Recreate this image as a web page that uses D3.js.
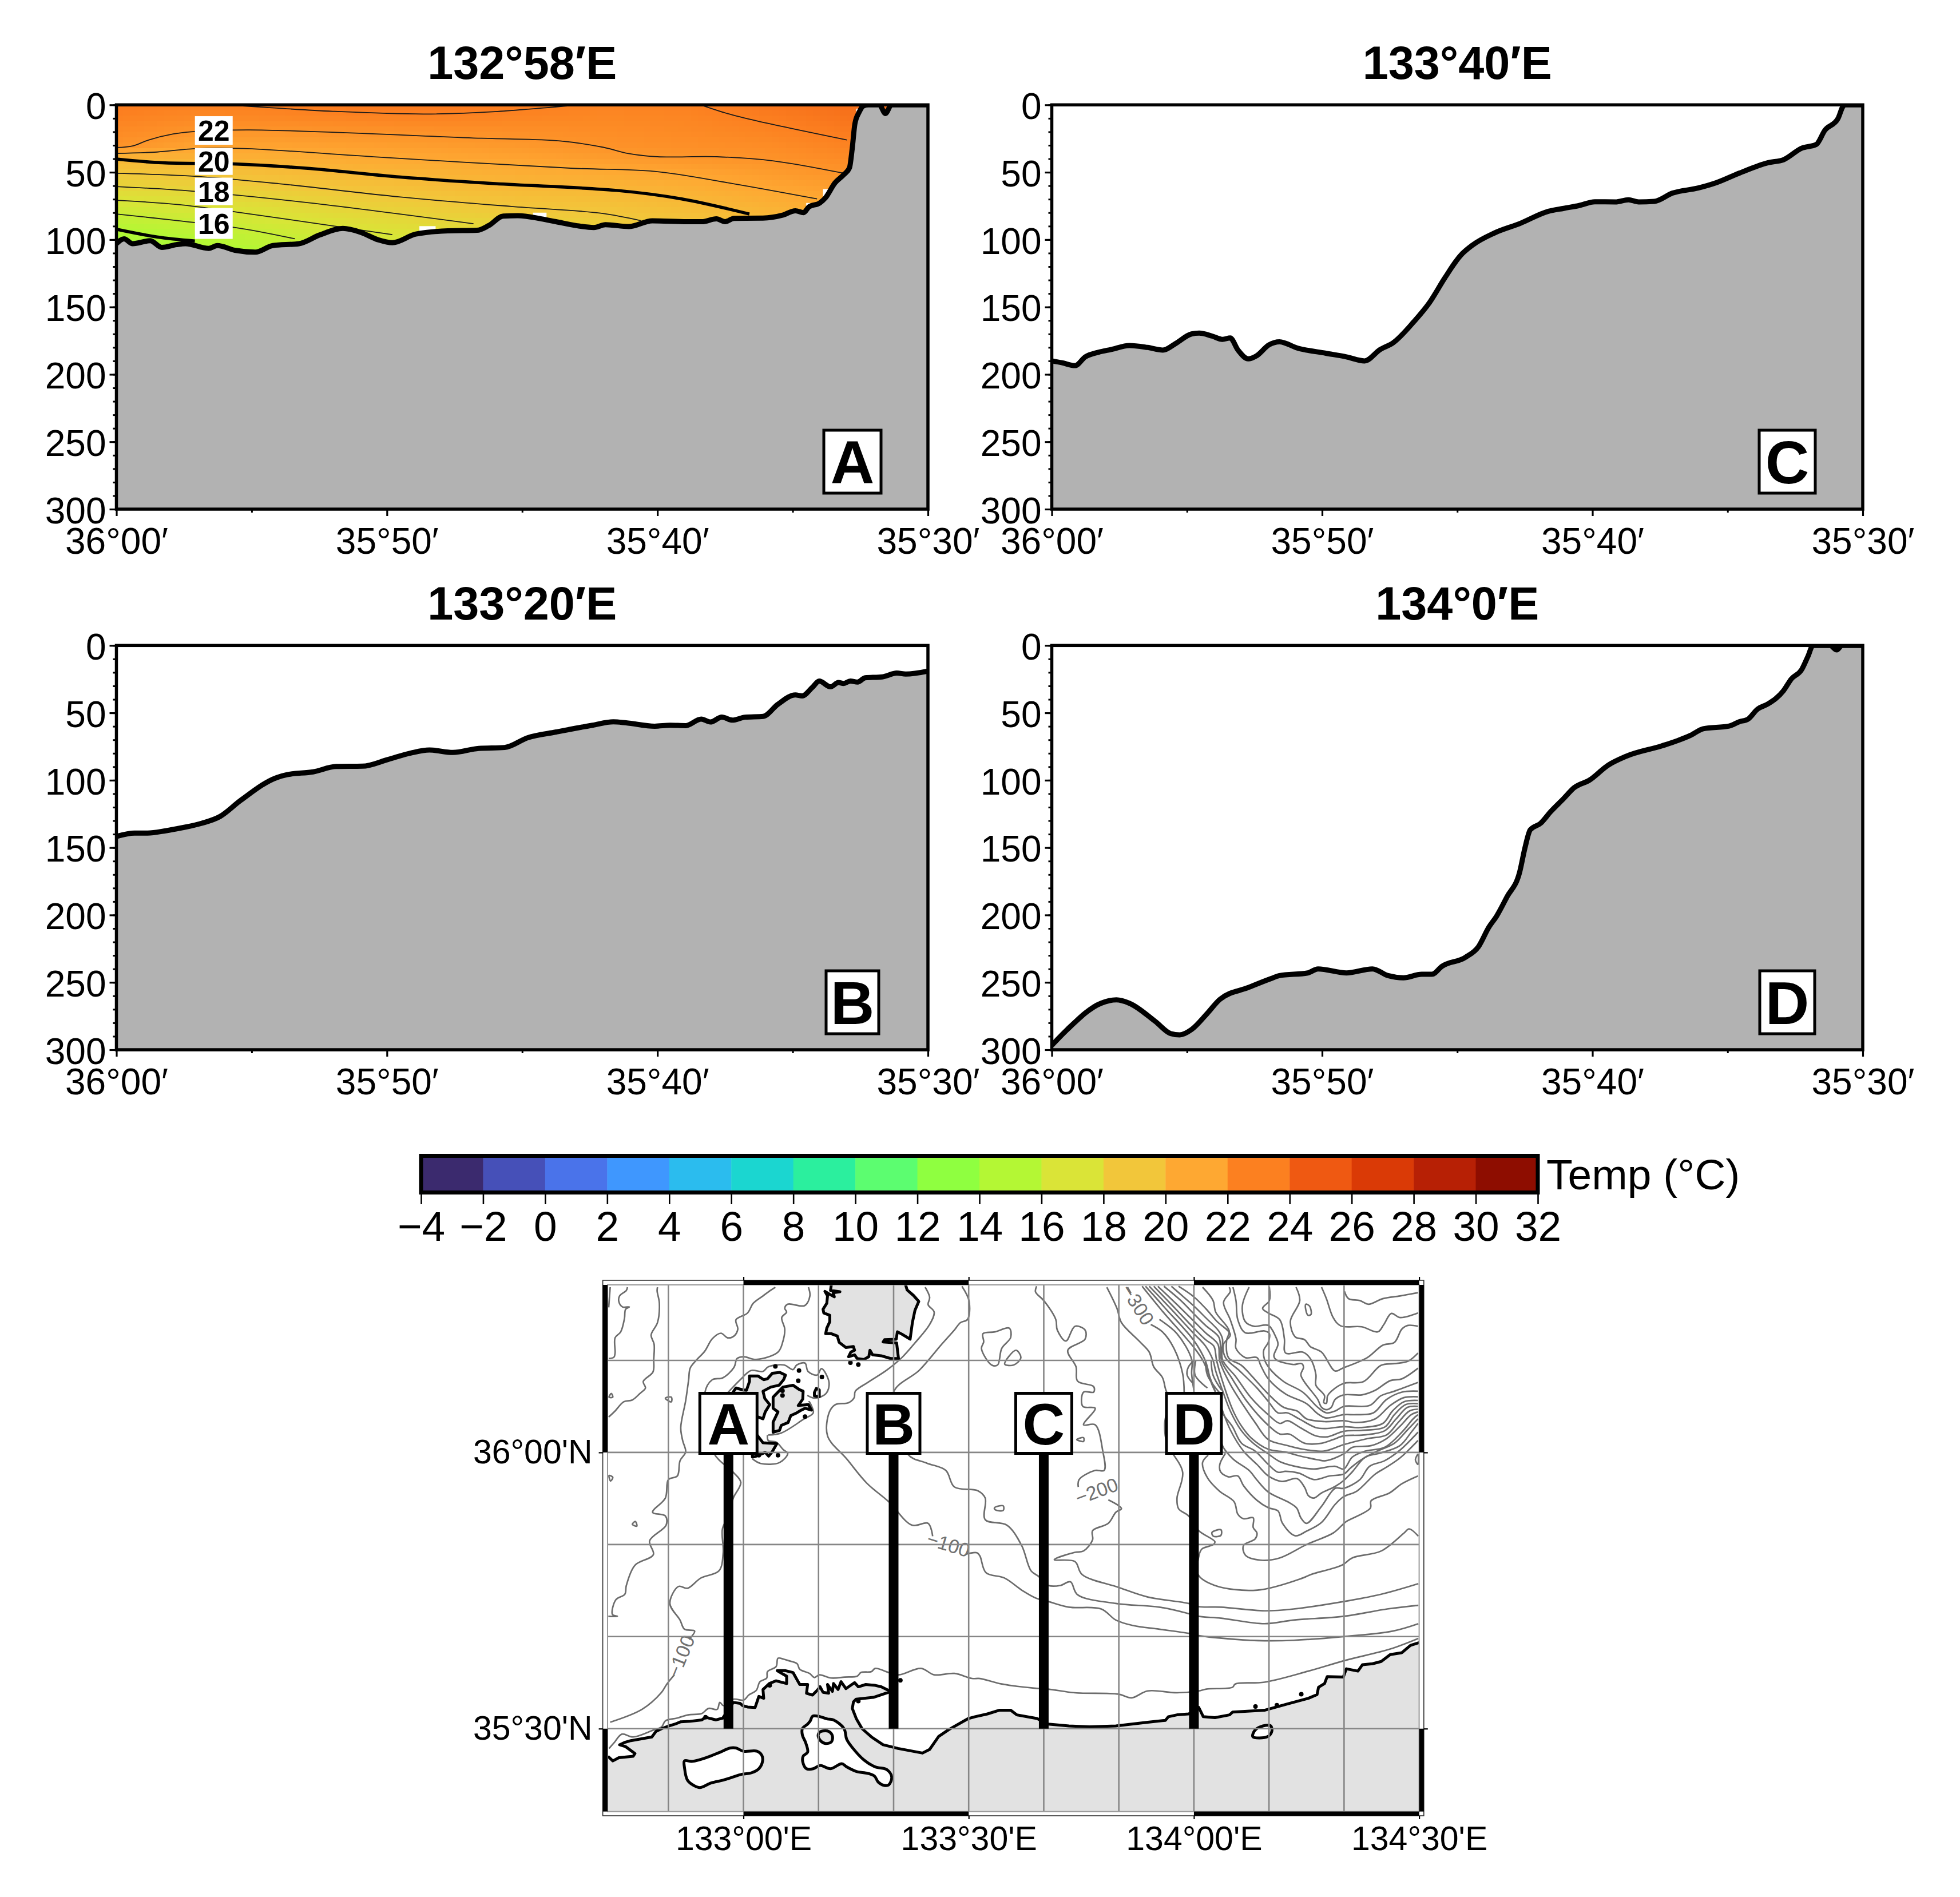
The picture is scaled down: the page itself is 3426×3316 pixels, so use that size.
<!DOCTYPE html>
<html><head><meta charset="utf-8">
<script src="https://cdn.jsdelivr.net/npm/d3@7"></script>
<style>html,body{margin:0;background:#fff}svg{display:block}text{font-family:"Liberation Sans",Arial,sans-serif}</style>
</head><body><svg id="c" width="3426" height="3316"></svg>
<script>
// ---------- bathymetry sections: minutes of latitude south of 36 00N, depth in metres
const latA=[0,.28,.6,1.25,1.68,2.22,2.55,3.41,3.73,4.38,5.13,5.78,6.75,7.51,8.37,9.02,9.67,10.2,11.07,12.25,13.33,13.76,14.3,14.84,15.71,16.25,17,17.65,18.08,18.94,19.81,21.1,21.64,22.18,22.5,22.83,23.9,24.6,25.1,25.4,25.6,26,26.21,26.56,26.9,27.1,27.2,27.3,27.45,27.62,27.8,28.2,28.43,28.65,30];
const depthA=[103,99.4,103,100.8,105.8,103.7,103,106.5,104.4,107.9,109.3,104.4,103,96.6,91.7,94.5,100.1,102.3,95.9,93.5,93.1,89.6,82.5,82.2,84.6,86.7,89.6,91,88.9,90.3,86,86.7,86.7,84.6,86.7,84.2,84,82,78.6,80,75.7,72.8,69,58,51.6,46.7,32.5,14,5.7,.7,0,0,6.4,0,0];
const latB=[0,.67,1.15,1.82,2.39,3.16,3.83,4.59,5.93,6.31,7.27,8.13,9.09,10.04,10.9,11.57,12.44,13.39,14.35,15.21,16.26,17.6,18.37,18.84,19.9,20.47,21.04,21.62,21.96,22.38,22.77,23.24,23.91,24.45,25.1,25.35,25.73,25.98,26.4,26.69,26.88,27.13,27.4,27.68,28.31,28.85,29.18,30];
const depthB=[141.7,139.2,139.2,137.5,135.4,131.9,126.9,115,98,95.9,93.8,89.8,89.6,84.6,79.7,77.6,79.4,76.4,75.7,68.4,64.2,59.2,56.7,57.4,59.9,59.2,59.5,54.6,56.8,53.2,55.4,53.2,52.6,43.7,36.7,37.4,31,26.4,30.7,27.5,28.2,26.4,27.2,24,23.3,20.5,21.2,19];
const latC=[0,.38,.86,1.24,1.72,2.2,2.87,3.54,4.11,4.59,5.17,5.45,5.93,6.31,6.6,6.89,7.27,7.56,8.04,8.42,9.09,10.14,10.9,11.57,12.15,12.63,13.39,13.97,14.54,15.11,15.59,16.36,17.31,18.37,18.94,19.51,20.09,20.85,21.33,21.71,22.29,22.96,23.91,24.59,25.44,26.5,27.07,27.74,28.28,28.6,29.08,29.27,29.33,30];
const depthC=[190,191.4,193.5,187,183.6,181.5,178.6,180,182,177,170,169.4,171.6,174,173,182,188.5,186.4,178,175.8,180.5,184.3,187,190,181.5,176.5,161,146.8,128.4,112,103.7,95.2,88.1,79,76.8,74.7,71.9,72,70.4,72,71.6,65.5,61.7,57.7,50.6,42.9,40.7,32.2,29.4,18.8,10.3,1.1,0,0];
const latD=[0,.57,1.82,2.39,2.87,3.83,4.4,4.73,5.17,5.74,6.22,7.27,8.13,8.42,9.47,9.85,10.9,11.86,12.44,13.01,13.68,14.06,14.44,15.3,15.78,16.17,16.45,16.84,17.31,17.5,17.7,18.08,18.46,18.94,19.32,19.9,20.57,21.24,22.57,23.15,23.63,24.1,25.06,25.44,25.73,26.11,26.5,27.07,27.36,27.74,27.97,28.16,28.79,29.04,29.23,30];
const depthD=[296.7,285,265.5,263,265.5,279,288,289,285,273.3,262.6,253.8,247,245,243,240,243,240,245,246.6,244,244,238,231.4,223.6,209,201,186.5,168,150.5,136.8,132,123.2,113.5,105.6,99.8,89,82.3,74.5,70.6,66.7,61.8,59.8,56.5,55,47.2,43.3,33.5,24.8,17.9,8.2,0,0,3.3,0,0];
const sectionLetters=["A","C","B","D"];
const sectionTitles=["132°58′E","133°40′E","133°20′E","134°0′E"];
const sectionLats=[latA,latC,latB,latD];
const sectionDepths=[depthA,depthC,depthB,depthD];
const sectionTickLabels=["36°00′","35°50′","35°40′","35°30′"];
const sectionTickLats=[0,10,20,30];
const depthTicks=[0,50,100,150,200,250,300];

// ---------- temperature along section A (columns by latitude, rows by depth)
const tempLat=[0,3,6,9,12,15,18,21,24,27];
const tempDepth=[0,10,20,30,40,50,60,70,80,90,100,110];
const tempGrid=[
[23.3,22.9,22.5,22.1,20.05,19.1,18.05,17.1,16.1,15.2,14.4,13.6],
[22.95,22.5,21.95,21.25,20.35,19.3,18.4,17.5,16.65,15.8,15.05,14.4],
[23.1,22.6,21.95,21.3,20.5,19.7,18.9,18.05,17.25,16.5,15.8,15],
[23.4,22.75,22.05,21.45,20.85,20.1,19.35,18.6,17.9,17.2,16.5,15.8],
[23.4,22.8,22.15,21.6,21.05,20.35,19.7,19.05,18.4,17.7,17,16.3],
[23.15,22.7,22.25,21.8,21.25,20.65,20,19.4,18.8,18.1,17.5,16.8],
[22.85,22.6,22.35,22.1,21.55,20.9,20.2,19.55,19,18.4,17.8,17.2],
[22.95,22.7,22.5,22.25,21.9,21.2,20.6,20,19.45,18.9,18.4,17.9],
[23.5,23.1,22.75,22.4,22.05,21.6,21.15,20.65,20.1,19.6,19,18.5],
[23.9,23.6,23.25,22.85,22.45,22.05,21.6,21.15,20.7,20.2,19.8,19.4]];
const tempGapLat=[[27.35,27.43],[26.12,26.32],[25.5,25.65],[15.4,15.9],[11.2,11.8]];
const tempGapDepth=[[2.8,7],[62.5,68],[72.8,75],[80,84.6],[90,94.5]];
const iso23a=[[4.1,0],[6,2.5],[8,4.8],[11.4,6.8],[14,5],[17.1,0]];
const iso23b=[[21.6,0],[22.6,6.5],[23.7,12],[27,26]];
const iso22=[[0,31.7],[.6,30.5],[1.2,26],[2.1,21.6],[2.76,20],[4.9,18.6],[13.5,24.8],[16.4,26.8],[18,31.5],[18.9,36],[20,38.5],[22.2,38.5],[24.3,41.6],[26.9,50.8]];
const iso21=[[0,36],[1.5,35],[2.9,32.5],[4.7,32.4],[9.7,38.8],[16.8,47],[19.9,49.4],[22.8,58.5],[25.9,69.8]];
const iso20=[[0,40.2],[1.7,43],[4.3,43.8],[7,47],[10.5,53.6],[14,58.5],[18.5,63.5],[20.9,69.8],[23.4,81]];
const iso19=[[0,50.8],[2.8,52.9],[6,58.5],[10.5,68.4],[14.6,75.4],[17.9,80.4],[19.4,86]];
const iso18=[[0,60.6],[2.8,64],[7.1,72.6],[13.2,88.2]];
const iso17=[[0,70.8],[2.3,74],[4.5,79.7],[8.4,91],[10.2,96.3]];
const iso16=[[0,81],[2.3,86],[4.7,92],[6.6,99.4]];
const iso15=[[0,92.3],[1.5,98],[2.9,101]];
const isoThin=[iso23a,iso23b,iso22,iso21,iso19,iso18,iso17,iso16];
const isoBold=[iso20,iso15];
const isoLabels=["22","20","18","16"];
const isoLabelDepth=[19,42,64.2,88];
const isoLabelLat=3.6;

// ---------- colour bar
const barBreaks=[-4,-2,0,2,4,6,8,10,12,14,16,18,20,22,24,26,28,30,32];
const barColors=["#3b2a6e","#4650b8","#4a73ea","#3f97fe","#2bbcee","#1bd6d0","#2bef9e","#5cfd70","#8fff40","#b4f734","#dae437","#f2c63a","#fea832","#fc8020","#ef5912","#da3a06","#b72005","#8e0d00"];

// ---------- map: arcminutes east of 133 00E, arcminutes north of 35 30N
const coastSouth=[[-18.05,-3],[-17.4,-3.5],[-16.6,-3.15],[-14.7,-3],[-14.45,-2.7],[-15.7,-1.95],[-16.5,-1.75],[-15.85,-1.5],[-15,-1.3],[-12.2,-.9],[-11.65,-.3],[-10.9,0],[-9.9,.3],[-9.1,.5],[-8.35,.75],[-7.1,.8],[-5.55,.95],[-5.05,1.25],[-4.4,1.1],[-3.65,.95],[-2.75,1.15],[-1.35,2.85],[-.45,2.75],[-.1,2.5],[.55,2.35],[1.55,2.3],[1.8,2.9],[2.05,3.5],[2.7,3.3],[2.6,4.25],[3.45,4.9],[4.35,5.2],[5.75,4.9],[5.75,5.7],[5.1,6],[4.5,6.3],[5.6,6.3],[6.6,6.1],[7.15,5.3],[7.5,4.8],[8.55,4.8],[8.4,3.85],[9.2,3.65],[9.8,4.15],[10.2,4.55],[10.6,3.95],[11.35,3.85],[11.2,4.8],[11.85,4.05],[12,4.9],[12.6,4.25],[13,5.1],[13.65,4.35],[14.8,5],[15.3,4.55],[16.3,4.8],[17.55,4.7],[18.35,4.55],[19.35,4.15],[19.35,3.95],[17.3,3.4],[15,3.2],[14.65,2.9],[14.5,2.2],[15.05,1.05],[15.8,0],[17.05,-.9],[18.6,-1.75],[20.6,-2.15],[23.85,-2.65],[24.8,-2.25],[26,-.85],[27.35,-.1],[29.95,1.1],[30.85,1.3],[32.5,1.6],[34.05,2],[35.6,2],[36.4,1.5],[39.1,1.1],[40.6,.5],[43.35,.3],[46.1,.2],[49.6,.3],[53.85,.7],[56.2,.9],[56.6,1.3],[57.75,1.5],[59.3,1.6],[60.65,2.3],[61.25,1.3],[62.8,1.2],[64.75,1.5],[65.15,1.8],[69.4,2],[72.5,2.7],[75.25,3.3],[76.4,3.7],[76.6,4.5],[77.4,4.9],[77.75,5.65],[79.9,5.6],[80.3,6.5],[81.85,6.25],[82.45,6.95],[83.8,7.05],[84.95,7.3],[86.15,8.05],[87.7,8.25],[88.85,9.05],[90,9.35]];
const coastDogo=[[11.7,48.2],[11.6,47.6],[12.85,47.45],[11.95,47.35],[12.1,46.9],[11.45,47.2],[10.85,47.5],[11.2,47],[11.1,46.2],[10.6,45.55],[10.7,45.15],[11.5,44.9],[11.5,44.2],[11.1,43.5],[10.95,42.9],[11.7,42.9],[12.5,42.65],[12.75,41.95],[13.65,41.4],[14.65,41.5],[14.8,41.1],[14.3,40.9],[14,40.4],[14.8,40.6],[15.15,40.2],[16.05,40.1],[16.7,40.4],[16.85,41.1],[17.2,40.6],[18.35,40.5],[19.6,40.2],[20.65,40.2],[20.4,41.9],[18.6,42],[18.8,42.25],[20.35,42.3],[20.5,43.1],[21.1,42.85],[22.2,42.3],[22.5,44.1],[22.85,45.45],[23.35,46.4],[22.65,47.05],[21.8,47.65],[21.6,48.2]];
const coastNishi=[[.8,38.3],[1.95,38.3],[2.7,37.9],[3.2,38],[3.85,38.6],[4.85,38.7],[5.6,38.4],[5.35,37.9],[4.75,37.3],[3.65,37.1],[2.6,36.65],[2.85,35.85],[3.5,35.2],[2.9,34.4],[2.6,33.65],[1.95,33.85],[-1.2,33.85],[-1.5,36.4],[-1,37],[-.1,36.8],[.4,36.75],[.8,37.7]];
const coastNaka=[[3.95,36],[5.25,37.1],[6.6,37.3],[7.4,36.85],[7.95,36.65],[7.9,35.8],[7.3,35.1],[8.65,35.2],[9.05,34.6],[8.2,34.8],[7.7,34.6],[7.1,34.3],[6.3,34],[5.95,33.25],[5.05,32.95],[4.8,32.4],[3.95,32.2],[3.95,33.3],[4.6,34.4],[3.95,34.8],[3.95,35.6]];
const coastChiburi=[[1,32.5],[1.8,31.9],[2.6,31.05],[4.45,30.95],[3.85,30.1],[3.35,29.6],[2.9,30],[1.55,29.55],[1.2,29.5]];
const coastRingA=[[9.45,36.5],[9.7,36.95],[10.1,36.8],[10.1,36.05],[9.45,36.15]];
const lakeShinji=[[-7.85,-3.5],[-6.8,-3.55],[-4.8,-3.1],[-3.25,-2.6],[-1.75,-2.1],[-1,-2.1],[0,-2.45],[1.8,-2.45],[2.45,-2.9],[2.55,-3.5],[2.05,-4.35],[1.05,-4.8],[-.2,-4.95],[-1.75,-5.35],[-2.75,-5.6],[-4.3,-5.9],[-5.8,-6.4],[-6.55,-6.2],[-7.45,-5.6],[-7.85,-4.25]];
const lakeNaka=[[9.2,1.35],[9.95,1.35],[11.2,1.05],[12,.95],[13.4,0],[13.75,-1.15],[14.5,-2.05],[16.05,-3.4],[17.55,-4.15],[19.1,-4.45],[19.75,-5.25],[19.35,-6.1],[18.7,-6.15],[17.95,-5.8],[17.45,-5.15],[16.55,-4.85],[15.05,-4.65],[13.75,-4.15],[13.1,-3.8],[11.6,-4.35],[10.2,-4],[9.3,-4.35],[8.4,-4.35],[7.9,-3.6],[7.95,-3],[8.55,-2.55],[8.3,-1.55],[7.85,-.7],[7.85,0],[8.55,.5],[8.9,.85]];
const lakeIsle=[[10.6,-.25],[11.35,-.3],[11.85,-.8],[11.7,-1.45],[10.85,-1.6],[10.2,-1.25],[9.95,-.7],[10.2,-.35]];
const lakeEast=[[67.85,-.87],[68.1,-.2],[68.83,.2],[70.2,.32],[70.38,-.28],[69.8,-.87]];
const isletDots=[[68.2,2.4],[71.05,2.55],[74.3,3.75],[20.9,5.25],[15.3,3],[7.3,37.8],[4.25,39.35],[7.4,38.9],[10.45,38.2],[14.25,39.75],[15.3,39.55],[2.05,29.7],[4.6,29.7],[5.2,36.7],[5.2,36.2],[8.2,33.9],[-5.05,1.25],[3.5,4.7]];

const cW1=[[-17.75,47.95],[-17.95,45.75]];
const cW2=[[-15.45,47.95],[-15.6,47.6],[-16.5,47],[-16.6,46.4],[-16.1,45.8],[-15.2,45.8],[-15.7,45.55],[-15.85,44.55],[-16.35,43.1],[-17.1,42.45],[-17.1,40.8],[-17.25,40.35],[-17.95,40.2]];
const cW3=[[-11.45,47.95],[-11.5,47.55],[-11.2,46.2],[-11.45,44.1],[-12.3,42.75],[-11.9,41.75],[-11.95,40.1],[-12.05,38.75],[-13.35,37.7],[-13.05,37],[-13.8,36.4],[-14.8,35.7],[-15.95,35.5],[-17.1,34.5],[-17.95,33.85]];
const cW4=[[4.25,47.95],[3.6,47.6],[2.6,47],[1.3,46.2],[.55,45.15],[-1,44.4],[-.75,43.4],[-1.25,42.65],[-2.1,42.45],[-3,42.95],[-4.15,42.35],[-5.15,41],[-6.3,40],[-7.1,39.15],[-7.3,37.9],[-7.7,35.6],[-8.35,32.7],[-8.1,31.3],[-7.7,30.05],[-8.45,29.1],[-8.8,27.45],[-10,27.05],[-10.4,25.05],[-12.1,23.5],[-10.4,23.1],[-10.3,22.1],[-12.5,20.4],[-12,18.9],[-14.45,17.75],[-15.6,15.55],[-15.8,14.6],[-17,14],[-17.45,12.4],[-16.8,12.2],[-18,12.2]];
const cW5a=[[8.65,47.95],[8.85,47],[8.15,45.95],[5.9,46.1],[5.5,45.65],[5.75,45.25],[5.1,44.65],[5.5,43.4],[5.25,42.05],[4.6,40.9],[1.7,40.1],[.05,40.4],[-.85,40.2],[-1.25,39.25],[-2.75,38.1],[-4.15,37.9],[-5.15,36.45],[-4,30],[-1.35,27.85],[-.35,26.75],[-1.35,25.05],[-2,23.1],[-2.8,21.7],[-2.7,19.1],[-3.25,17.15],[-5.7,16.35],[-7.45,15.25],[-8.65,15.45],[-9.8,13.6],[-8.45,11.8],[-7.85,10.8],[-6.5,10.6],[-7.25,9.7]];
const cW5b=[[-9.2,5.85],[-10.2,4.85],[-10.95,3.9],[-13.5,2.1],[-17.75,.7]];
const cCoastal=[[-17.9,-2.15],[-17.25,-1.55],[-16.2,-.6],[-14.7,-.9],[-12.15,-.2],[-10.9,.2],[-10.4,.85],[-8.85,1.15],[-7.35,1.5],[-5.55,1.65],[-4.65,2.2],[-3.5,2.1],[-3.15,2.85],[-2.65,2.5],[-1.35,3.2],[.05,3.1],[.7,3.65],[1.7,4.15],[2.2,5.1],[3.1,5.5],[3.2,6.2],[4.35,6.75],[4.6,7.65],[5.35,7.55],[5.95,7.4],[7.15,7.05],[7.5,6.45],[8.8,6],[9.45,5.55],[10.1,5.85],[11.7,5.5],[13.5,5.6],[15.15,5.7],[15.65,6.1],[17.05,6.2],[17.55,6.55],[19.35,6.1],[20.7,5.85],[23.65,6.55],[25.4,5.85],[28.1,6],[30.45,5.45],[31.5,5.45],[34.4,4.85],[38.7,4.4],[40.6,4.3],[44.15,3.9],[49.95,3.75],[51.7,3.35],[53.85,4.1],[57.75,3.9],[60.65,4.1],[61.65,4.3],[65.15,4.5],[65.5,4.85],[69.4,5.05],[75.25,6.25],[80.3,7.45],[86.15,8.65],[89.9,9.8]];
const cIslesA=[[24.2,47.95],[24.8,46.85],[24.6,46.05],[25.4,45.25],[24.8,43.9],[22.85,41.9],[21.1,40.3],[19.1,38.95],[16.55,37.6],[14.9,36.65],[14.75,35.95],[14,35.4],[12.25,35.2],[11.45,34.4],[11.2,31.8],[13.75,29.3],[16.45,26.65],[19.35,24.65],[22.45,22.1],[24.6,22.3],[25.2,20.9]];
const cIslesB=[[29.65,18.95],[31.1,19.1],[31.5,18.75],[32.3,16.95],[34.8,16.35],[37.15,15],[38.9,14.2],[40.65,13.8],[43.35,13.2],[47.65,13],[49.6,11.8],[51.9,11.2],[55.4,10.8],[59.3,10.35],[60.65,10.1],[65.5,9.7],[69.4,9.55],[73.3,9.6],[79.9,10],[86.5,10.6],[89.9,11.4]];
const cDozenS=[[3.3,31.9],[5,32.1],[8,33.6],[9.3,34.3],[9.1,35],[8.7,35.6]];
const cDozenN=[[-2.2,36.4],[-.3,38],[1,38.9],[2.6,38.8],[3.3,39.3],[5.4,39.5],[6.6,39],[7.1,39.5],[8.2,39.7],[8.6,38.8],[9.8,38.4],[10.4,39.1],[11.4,37.6],[11,36.4],[9.5,35.9],[8.5,36.2]];
const cSouthIsle=[[1.2,29.3],[2.3,28.8],[4.8,28.9],[5.9,29.9],[5.3,30.3],[4.4,31.1],[3.3,31.3],[3.2,31.9]];
const cMid2=[[29.1,48.05],[30.05,46.45],[29.85,44.45],[28.9,44.1],[28.1,43.3],[26.35,41.7],[23.45,38.95],[19.95,36.45],[21.9,29.8],[24.4,28.85],[26.95,28.05],[28.1,26.25],[31.2,25.85],[32.2,25.05],[32.2,22.7],[35.1,22.1],[37.05,19.9],[38.3,17.15],[39.3,16.55],[40.65,15.55],[42.2,15.55],[43.55,15.95],[44.5,14.55],[49.6,13.6],[55.4,13.2],[59.3,12.5],[60.65,12.2],[63.6,12],[69.4,11.4],[73.3,11.8],[79.9,12.2],[85.75,13],[89.9,13.4]];
const c200a=[[39.05,48.05],[38.9,47.45],[40.05,46.45],[41.6,44.45],[41.8,43.3],[42.95,42.1],[44.15,43.7],[45.5,43.3],[45.5,42.3],[43.2,41.1],[44.3,39.3],[44.5,37.75],[46.65,37.15],[46.65,36.55],[45.3,36.55],[45.2,35],[46.85,34.8],[45.3,33],[46.85,33],[47.85,30.2],[48.05,28.05],[46.85,28.05],[44.7,27.05],[44.6,26.25]];
const c200b=[[48.6,24.85],[50.35,23.9],[49.6,23.5],[48.6,22.3],[46.5,21.5],[46.5,20.5],[45.3,19.3],[44.15,19.15],[41.4,18.35],[44.15,18.15],[45.1,16.75],[49.95,15.35],[53.85,14.3],[59.3,13.6],[60.65,13.25],[63.6,13.2],[69.4,12.8],[73.3,13],[79.9,13.8],[84.95,14.6],[89.9,15.75]];
const cN1=[[48.4,47.95],[49.75,45.65],[50.35,44.1],[52.7,42.1],[54.05,40.9],[54.65,39.3],[55.8,38.15],[56.2,36.95],[56.6,35.8],[56.1,33],[56.4,31],[58.5,27.85],[57.75,25.05],[57.95,23.9],[59.3,23.1],[60.65,21.5],[62.8,20.3],[62.6,20],[61.05,19.5],[60.65,18.7],[60.55,16.75],[62.8,15.55],[68.45,15.05],[74.45,16.35],[75.6,16.75],[79.7,17.75],[81.1,18.55],[84.95,19.3],[88.05,21.3],[88.65,21.7],[89.9,20.9]];
const cN2=[[61.9,29.7],[61.15,28.9],[61.8,27.25],[63.4,25.8],[65.35,24.65],[65.85,23.3],[66.6,22.8],[67.9,22.9],[67.9,21.85],[68.4,21.25],[68.15,20.6],[66.6,19.9],[66.85,18.85],[68.9,18.3],[71.45,18.55],[75,20],[78.55,21.25],[79.8,22.15],[80.3,22.5],[83.5,23.95],[83.6,24.75],[86.05,25.6],[87.7,26.6],[89.85,27.45]];
const cR1=[[80.05,47.5],[80.6,46.7],[82.1,46.5],[83.25,46.1],[85.15,46.7],[87.45,47],[89.85,47.35]];
const cR2=[[77,47.95],[77.65,46.7],[78.55,44.65],[79.55,43.75],[82.35,43.65],[84.5,43.1],[85.3,43.9],[86.3,45.1],[87.45,44.65],[89.85,45.15]];
const cR3=[[73.6,47.95],[74.1,46.5],[72.85,44.25],[73.5,42.55],[74.75,42.25],[75.5,41.5],[77,40.9],[78.8,38.85],[79.8,39.15],[83.1,40.3],[85.15,41.65],[86.7,41.95],[87.7,43.4],[88.5,43.8],[89.85,43.7]];
const cR4=[[70.05,47.95],[70.05,46.5],[69.15,45.65],[69.9,45.15],[71.45,44.4],[72.05,42.35],[72.2,40.8],[74.5,40.9],[75.5,40.2],[76.25,38.45],[76.25,37.3],[77.4,36.15],[77.3,35.4],[77.65,35.35],[77.8,36.15],[78.3,36.65],[79.95,37.5],[82.6,37.7],[84.9,39.45],[86.7,39.65],[88.5,39.9],[89.85,40.8]];
const cR5=[[67.35,47.95],[66.45,45.9],[66.85,44.2],[68,43.7],[69.9,43.8],[70.9,42.55],[71.2,41.75],[70.65,40.5],[70.9,40.1],[73.2,39.55],[74.35,39.65],[74.6,39.25],[74.25,38.4],[76.5,35.75],[77,34.9],[77.65,34.65],[78.3,34.9],[78.8,35.75],[79.95,36.25],[82.35,36.25],[84.15,36.75],[86.15,37.8],[87.7,38],[89.85,39.15]];
const cFa=[[65.2,47.95],[65.6,46.5],[65.85,44.4],[66.85,43],[69.4,43.2],[70.05,42.9],[69.9,41.95],[69.3,41.1],[69.4,40.1],[70.05,39.15],[71.95,37.7],[74.5,36.55],[76.5,34.9],[77.65,34.3],[78.8,34.5],[79.95,35],[83.4,35.1],[84.9,36.15],[86.7,36.65],[89.85,37.6]];
const cFb=[[64.7,47.95],[64.85,47.5],[63.95,46.3],[64.85,44.4],[65.6,42.35],[65.6,41.3],[66.85,40.3],[68.4,40.3],[68.9,39.45],[69.9,38],[72.2,36.35],[75,35.3],[76.5,34.2],[77.55,33.75],[79.95,34.1],[81.6,34.1],[83.9,34.3],[85.65,35.75],[87.7,36.55],[89.85,36.65]];
const cFc=[[61.15,47.95],[62.55,46.5],[62.9,45.25],[64.7,43.2],[64.35,42.15],[64.6,40.3],[66.35,39.45],[67.6,38.4],[69.9,36.35],[71.95,34.9],[73.75,34.5],[75,33.65],[77.4,33.35],[79.95,33.45],[81.6,33.25],[84.15,33.65],[86.15,35.1],[87.95,35.95],[89.85,36.05]];
const cFd=[[57.95,48.05],[60,46.9],[61.55,45.65],[63.05,44.25],[64.85,42.8],[63.95,41.75],[64.2,40.3],[66.1,38.85],[68.4,37],[69.9,35.55],[71.2,34.3],[72.45,34.3],[74,33.65],[76.25,32.7],[77.55,32.6],[79.95,32.8],[82.1,32.7],[85.15,33.15],[86.45,34.5],[87.95,35.5],[89.85,35.65]];
const cFe=[[57,48.05],[58.75,46.8],[60,45.9],[61.55,44.65],[63.3,43.2],[63.8,42.35],[63.8,40.1],[65.6,38.2],[67.6,35.95],[69.9,34.1],[71.45,33.15],[72.45,33.45],[74.25,32.65],[76.25,31.8],[77.8,31.7],[79.95,32.3],[82.35,32.4],[85.4,32.75],[86.7,34.1],[88.2,35.2],[89.85,35.3]];
const cFf=[[56,48.05],[58.25,46.5],[60,45.05],[61.55,43.8],[63.3,42.55],[63.55,41.55],[63.7,39.9],[65.1,38],[67.1,35.5],[69.9,32.95],[71.45,32],[72.7,32],[74.75,31],[77,31],[78.55,31.4],[79.95,31.8],[82.6,31.9],[85.4,32.35],[86.95,33.65],[88.45,34.9],[89.85,35]];
const cFf2=[[55.2,48.05],[57.7,46.1],[60,44.25],[61.55,43],[63.2,41.75],[63.45,39.9],[64.85,37.4],[66.6,35.1],[68.15,33.25],[69.9,31.4],[72.2,30.8],[74.5,30.35],[77.3,30.15],[79.95,30.85],[83.1,31.5],[85.65,31.9],[87.2,33.25],[88.7,34.5],[89.85,34.7]];
const cFg=[[54.65,48.05],[57.2,45.9],[60,43.5],[61.55,42.25],[62.65,41.55],[63.05,39.9],[64.45,36.15],[65.35,34.3],[66.35,32.85],[67.6,31.6],[69.9,30.35],[72.2,30.05],[73.5,29.75],[76.5,29.2],[77.55,29.1],[79.95,29.85],[81.1,30.55],[83.65,30.75],[85.65,31.5],[87.45,32.85],[88.95,34.1],[89.85,34.4]];
const cFh=[[54.05,48.05],[56.7,45.8],[60,42.9],[61.55,41.55],[62.55,40],[62.9,38.85],[63.8,36.75],[64.85,34.5],[66.25,32.45],[67.9,31],[69.9,29.85],[71.45,29],[74,28.4],[76,28.2],[78.8,28.5],[79.95,28.2],[81.1,29.5],[82.85,30.15],[85.4,30.55],[87.7,32.2],[89.2,33.65],[89.85,34.1]];
const cFi=[[53.55,48.05],[56.2,45.65],[60,42.15],[61.55,39.9],[62.3,37.6],[63.55,35.3],[63.8,34.3],[65.1,32.85],[66.35,31],[68.15,30.15],[69.9,28.7],[71.2,27.85],[72.2,27.95],[74,27.75],[76,27.05],[78.05,27.45],[79.95,27.65],[80.85,28.3],[82.1,29.1],[84.15,30.05],[86.7,31],[88.45,32.45],[89.85,33.65]];
const cFj=[[53.1,48.05],[55.7,45.45],[60,41.4],[61.25,39.9],[62.3,37.8],[63.55,35.1],[64.85,32.45],[66.6,30.15],[68.4,28.7],[69.9,27.45],[71.7,26.85],[73.75,27.15],[74.75,26.2],[75.25,25.3],[76,25.05],[77,25.6],[78.8,26.3],[79.95,26.95],[81.1,27.9],[82.85,29.5],[84.9,29.95],[87.45,30.75],[88.95,32.2],[89.85,33.15]];
const cFk=[[63.55,34.1],[63.55,32.85],[63.8,30.75],[65.2,29.3],[67.35,28.05],[68.4,27],[69.9,25.7],[72.7,24.55],[73.7,23.95],[74.25,22.9],[75,22.3],[77,24.15],[78.8,26.1],[79.95,26.1],[82.1,27.05],[83.4,28.5],[85.4,29.1],[87.45,30.25],[89.85,32.2]];
const cFl=[[64.2,29.9],[63.45,28.7],[63.55,27.9],[64.6,27.35],[65.85,27.45],[66.6,26.4],[68.4,24.8],[69.9,24],[71.2,23.65],[71.8,22.3],[73.5,20.95],[75,21.45],[77,22.4],[78.8,24.35],[79.95,25.2],[81.7,25.8],[84.15,27.65],[85.65,28.4],[87.45,29.4],[89.85,31.3]];
const cM=[[54.25,43.9],[55.8,43.1],[57.35,41.3],[58.5,38.55],[58.7,36.55]];
const cN=[[55.4,44.45],[57.75,42.9],[59.7,40.1],[59.7,38.55],[60,36.75]];
const cTop=[[51.15,47.95],[51.6,47.3]];
const cP=[[60,40],[59.25,39.25],[59.1,38.4],[60,37.4]];
const cQ=[[60.25,40],[60.15,38.4],[61.8,37]];
const cQ2=[[61.55,40],[61.8,38.4],[63.55,36.35]];
const cQ3=[[62.3,40],[62.55,38.4],[63.7,36.75]];
const contourLines=[cW1,cW2,cW3,cW4,cW5a,cW5b,cCoastal,cIslesA,cIslesB,cDozenS,cDozenN,cSouthIsle,cMid2,c200a,c200b,cN1,cN2,cR1,cR2,cR3,cR4,cR5,cFa,cFb,cFc,cFd,cFe,cFf,cFf2,cFg,cFh,cFi,cFj,cFk,cFl,cM,cN,cTop,cP,cQ,cQ2,cQ3];
const ringOki=[[31.9,42.9],[33.5,43.1],[35.4,43.5],[35.6,42.5],[34.4,41.3],[33.85,39.5],[33.05,39.5],[31.7,41.3],[32,42]];
const ringOval=[[34.8,39.6],[36.3,41.1],[36.95,40.3],[36,39.5]];
const ringSmall1=[[33.45,24],[34.6,24.2],[34.6,23.7],[33.5,23.8]];
const ringSmall2=[[44.4,31.4],[45.3,31.6],[45.3,31.2]];
const ringSmall3=[[-10.4,35.9],[-9.6,36],[-9.6,35.5],[-10,35.6]];
const ringSmall4=[[-17.9,27.5],[-17.4,27.3],[-17.7,26.9]];
const ringSmall5=[[-14.8,22.2],[-14.4,22.5],[-14.2,22]];
const ringSmall6=[[-17.9,36],[-17.6,36.4],[-17.4,36]];
const ringNE1=[[74.9,46.1],[75.4,45.9],[75.6,45],[75.2,44.9],[74.9,45.5]];
const ringNE2=[[89.85,29.8],[89.5,29.2],[89.85,28.7]];
const ringNE3=[[62.4,21.3],[63.6,21.6],[63.6,21],[62.6,20.9]];
const rings=[ringOki,ringOval,ringSmall1,ringSmall2,ringSmall3,ringSmall4,ringSmall5,ringSmall6,ringNE1,ringNE2,ringNE3];
const contourTextLabels=["−100","−100","−200","−300"];
const contourTextLon=[27.3,-8.35,47.05,52.5];
const contourTextLat=[20,7.85,25.8,46.05];
const contourTextAngle=[17,-68,-20,58];
const gridLons=[-10,0,10,20,30,40,50,60,70,80];
const gridLats=[0,10,20,30,40];
const lonBreaks=[-18.1,0,30,60,90];
const latBreaks=[48.2,30,0,-9];
const mapLonTicks=[0,30,60,90];
const mapLonLabels=["133°00'E","133°30'E","134°00'E","134°30'E"];
const mapLatTicks=[30,0];
const mapLatLabels=["36°00'N","35°30'N"];
const stationLetters=["A","B","C","D"];
const stationLons=[-2,20,40,60];

// ---------- layout
const boxW={A:100,B:92,C:98,D:96};
const colX=[[203.5,1622],[1838.5,3256]];
const rowY=[[183.3,890],[1128.3,1835]];
const GRAY="#b2b2b2", svg=d3.select("#c");
const defs=svg.append("defs");
function letterBox(g,cx,cy,letter,fs,h){
  g.append("rect").attr("x",cx-boxW[letter]/2).attr("y",cy-h/2).attr("width",boxW[letter]).attr("height",h)
   .attr("fill","#fff").attr("stroke","#000").attr("stroke-width",5);
  g.append("text").attr("x",cx).attr("y",cy+fs*.358).attr("text-anchor","middle").attr("font-weight","bold").attr("font-size",fs).text(letter);
}
function styleAxis(g){g.select(".domain").remove();g.selectAll("line").attr("stroke","#000").attr("stroke-width",3.2);g.selectAll("text").attr("font-size",64).attr("fill","#000").attr("font-family",'"Liberation Sans"');}

sectionLetters.forEach((letter,i)=>{
  const X=colX[i%2],Y=rowY[i<2?0:1];
  const x=d3.scaleLinear().domain([0,30]).range(X), y=d3.scaleLinear().domain([0,300]).range(Y);
  const g=svg.append("g"), cid="clip"+i;
  defs.append("clipPath").attr("id",cid).append("rect").attr("x",X[0]).attr("y",Y[0]).attr("width",X[1]-X[0]).attr("height",Y[1]-Y[0]);
  const plot=g.append("g").attr("clip-path",`url(#${cid})`);
  const pts=sectionLats[i].map((v,k)=>[v,sectionDepths[i][k]]);
  if(letter==="A"){
    const bar=d3.scaleLinear().domain(barColors.map((c,k)=>(barBreaks[k]+barBreaks[k+1])/2)).range(barColors).interpolate(d3.interpolateRgb);
    const tempAt=(la,de)=>{
      const cf=Math.min(Math.max(la/3,0),tempLat.length-1.001), rf=Math.min(Math.max(de/10,0),tempDepth.length-1.001);
      const c0=Math.floor(cf), r0=Math.floor(rf), a=cf-c0, b=rf-r0;
      return d3.interpolateNumber(d3.interpolateNumber(tempGrid[c0][r0],tempGrid[c0+1][r0])(a),d3.interpolateNumber(tempGrid[c0][r0+1],tempGrid[c0+1][r0+1])(a))(b);
    };
    const cells=[];
    for(let la=0;la<29;la+=.25)for(let de=0;de<112;de+=4)cells.push([la,de]);
    plot.append("g").selectAll("rect").data(cells).join("rect")
      .attr("x",d=>x(d[0])).attr("y",d=>y(d[1])).attr("width",x(.25)-x(0)+.6).attr("height",y(4)-y(0)+.6)
      .attr("fill",d=>bar(tempAt(d[0]+.125,d[1]+2))).attr("shape-rendering","crispEdges");
    tempGapLat.forEach((la,k)=>{
      plot.append("rect").attr("x",x(la[0])).attr("y",y(tempGapDepth[k][0])).attr("width",x(la[1])-x(la[0])).attr("height",y(tempGapDepth[k][1])-y(tempGapDepth[k][0])).attr("fill","#fff");
    });
    const iso=d3.line().x(d=>x(d[0])).y(d=>y(d[1])).curve(d3.curveCatmullRom.alpha(.5));
    plot.selectAll(".thin").data(isoThin).join("path").attr("d",iso).attr("fill","none").attr("stroke","#1a1a1a").attr("stroke-width",1.8);
    plot.selectAll(".bold").data(isoBold).join("path").attr("d",iso).attr("fill","none").attr("stroke","#000").attr("stroke-width",5.5);
  }
  const area=d3.area().x(d=>x(d[0])).y0(y(300)).y1(d=>y(d[1])).curve(d3.curveMonotoneX);
  const line=d3.line().x(d=>x(d[0])).y(d=>y(d[1])).curve(d3.curveMonotoneX);
  plot.append("path").datum(pts).attr("d",area).attr("fill",GRAY);
  plot.append("path").datum(pts).attr("d",line).attr("fill","none").attr("stroke","#000").attr("stroke-width",9).attr("stroke-linejoin","round");
  if(letter==="A"){
    isoLabels.forEach((t,k)=>{
      const cx=x(isoLabelLat), cy=y(isoLabelDepth[k]), h=[50,47,48,54][k];
      g.append("rect").attr("x",cx-33).attr("y",cy-h/2).attr("width",66).attr("height",h).attr("fill","#fff");
      g.append("text").attr("x",cx).attr("y",cy+18).attr("text-anchor","middle").attr("font-weight","bold").attr("font-size",50).text(t);
    });
  }
  // axes
  const ax=g.append("g").attr("transform",`translate(${X[0]},0)`).call(d3.axisLeft(y).tickValues(depthTicks).tickSize(12).tickPadding(6).tickFormat(d3.format("d")));
  styleAxis(ax);
  ax.selectAll("text").attr("dy",".38em");
  const axm=g.append("g").attr("transform",`translate(${X[0]},0)`).call(d3.axisLeft(y).tickValues(d3.range(0,301,10)).tickSize(6).tickFormat(""));
  axm.select(".domain").remove();axm.selectAll("line").attr("stroke","#000").attr("stroke-width",3);
  const bx=g.append("g").attr("transform",`translate(0,${Y[1]})`).call(d3.axisBottom(x).tickValues(sectionTickLats).tickSize(12).tickPadding(21).tickFormat((d,k)=>sectionTickLabels[k]));
  styleAxis(bx);
  const bm=g.append("g").attr("transform",`translate(0,${Y[1]})`).call(d3.axisBottom(x).tickValues(d3.range(5,30,10)).tickSize(6).tickFormat(""));
  bm.select(".domain").remove();bm.selectAll("line").attr("stroke","#000").attr("stroke-width",3);
  g.append("rect").attr("x",X[0]).attr("y",Y[0]).attr("width",X[1]-X[0]).attr("height",Y[1]-Y[0]).attr("fill","none").attr("stroke","#000").attr("stroke-width",5.5);
  g.append("text").attr("x",(X[0]+X[1])/2).attr("y",Y[0]-45).attr("text-anchor","middle").attr("font-weight","bold").attr("font-size",81).text(sectionTitles[i]);
  letterBox(g,X[1]-132,Y[1]-83,letter,106,110);
});

// ---------- colour bar
(function(){
  const x=d3.scaleLinear().domain([-4,32]).range([736,2688]);
  const g=svg.append("g");
  g.selectAll("rect").data(barColors).join("rect").attr("x",(c,k)=>x(barBreaks[k])).attr("y",2020).attr("width",(c,k)=>x(barBreaks[k+1])-x(barBreaks[k])+.5).attr("height",65).attr("fill",c=>c);
  g.append("rect").attr("x",x(-4)).attr("y",2020.5).attr("width",x(32)-x(-4)).attr("height",64).attr("fill","none").attr("stroke","#000").attr("stroke-width",7);
  const a=g.append("g").attr("transform","translate(0,2088)").call(d3.axisBottom(x).tickValues(barBreaks).tickSize(17).tickPadding(12).tickFormat(d=>d<0?"−"+(-d):d));
  a.select(".domain").remove();a.selectAll("line").attr("stroke","#000").attr("stroke-width",2.6);
  a.selectAll("text").attr("font-size",73).attr("fill","#000").attr("font-family",'"Liberation Sans"');
  g.append("text").attr("x",2703).attr("y",2079).attr("font-size",75).text("Temp (°C)");
})();

// ---------- map
(function(){
  const L={l:1062,r:2480.6,t:2246,b:3166.6};
  const lon=d3.scaleLinear().domain([-18.1,90]).range([L.l,L.r]);
  const lat=d3.scaleLinear().domain([48.2,-9]).range([L.t,L.b]);
  const g=svg.append("g");
  defs.append("clipPath").attr("id","mapclip").append("rect").attr("x",L.l).attr("y",L.t).attr("width",L.r-L.l).attr("height",L.b-L.t);
  const m=g.append("g").attr("clip-path","url(#mapclip)");
  const LAND="#e2e2e2";
  const raw=d3.line().x(d=>lon(d[0])).y(d=>lat(d[1]));
  const smooth=d3.line().x(d=>lon(d[0])).y(d=>lat(d[1])).curve(d3.curveCatmullRom.alpha(.5));
  const closed=d3.line().x(d=>lon(d[0])).y(d=>lat(d[1])).curve(d3.curveCatmullRomClosed.alpha(.5));
  m.append("path").attr("d",raw(coastSouth.concat([[90,-9],[-18.1,-9]]))+"Z").attr("fill",LAND);
  [coastDogo,coastNishi,coastNaka,coastChiburi].forEach(c=>m.append("path").attr("d",raw(c)+"Z").attr("fill",LAND));
  m.selectAll(".cont").data(contourLines).join("path").attr("d",smooth).attr("fill","none").attr("stroke","#6c6c6c").attr("stroke-width",2.7);
  m.selectAll(".ring").data(rings).join("path").attr("d",closed).attr("fill","none").attr("stroke","#6c6c6c").attr("stroke-width",2.7);
  contourTextLabels.forEach((t,k)=>{
    m.append("text").attr("transform",`translate(${lon(contourTextLon[k])},${lat(contourTextLat[k])}) rotate(${contourTextAngle[k]})`)
     .attr("text-anchor","middle").attr("dy",".35em").attr("font-size",34).attr("fill","#707070").text(t);
  });
  const coastStroke=p=>p.attr("fill","none").attr("stroke","#000").attr("stroke-width",5).attr("stroke-linejoin","round");
  coastStroke(m.append("path").attr("d",raw(coastSouth)));
  [coastDogo].forEach(c=>coastStroke(m.append("path").attr("d",raw(c))));
  [coastNishi,coastNaka,coastChiburi,coastRingA].forEach(c=>coastStroke(m.append("path").attr("d",raw(c)+"Z")));
  [lakeShinji,lakeNaka,lakeEast].forEach(c=>coastStroke(m.append("path").attr("d",closed(c))).attr("fill","#fff"));
  coastStroke(m.append("path").attr("d",closed(lakeIsle))).attr("fill",LAND);
  m.selectAll(".dot").data(isletDots).join("circle").attr("cx",d=>lon(d[0])).attr("cy",d=>lat(d[1])).attr("r",4).attr("fill","#000");
  // graticule
  m.selectAll(".gx").data(gridLons).join("line").attr("x1",lon).attr("x2",lon).attr("y1",L.t).attr("y2",L.b).attr("stroke","#868686").attr("stroke-width",2.6);
  m.selectAll(".gy").data(gridLats).join("line").attr("y1",lat).attr("y2",lat).attr("x1",L.l).attr("x2",L.r).attr("stroke","#868686").attr("stroke-width",2.6);
  // station bars and letter boxes
  stationLetters.forEach((s,k)=>{
    g.append("line").attr("x1",lon(stationLons[k])).attr("x2",lon(stationLons[k])).attr("y1",lat(30)).attr("y2",lat(0)).attr("stroke","#000").attr("stroke-width",17);
    letterBox(g,lon(stationLons[k]),2488,s,102,105);
  });
  // fancy frame
  const out={l:1053.6,r:2488.8,t:2238,b:3174};
  const fr=g.append("g");
  fr.append("rect").attr("x",L.l).attr("y",L.t).attr("width",L.r-L.l).attr("height",L.b-L.t).attr("fill","none").attr("stroke","#9a9a9a").attr("stroke-width",2);
  fr.append("rect").attr("x",out.l).attr("y",out.t).attr("width",out.r-out.l).attr("height",out.b-out.t).attr("fill","none").attr("stroke","#333").attr("stroke-width",1.6);
  d3.pairs(lonBreaks).forEach(([a,b],k)=>{ if(k%2===1){
    fr.append("rect").attr("x",lon(a)).attr("y",out.t).attr("width",lon(b)-lon(a)).attr("height",L.t-out.t).attr("fill","#000");
    fr.append("rect").attr("x",lon(a)).attr("y",L.b).attr("width",lon(b)-lon(a)).attr("height",out.b-L.b).attr("fill","#000");
  }});
  d3.pairs(latBreaks).forEach(([a,b],k)=>{ if(k%2===0){
    fr.append("rect").attr("x",out.l).attr("y",lat(a)).attr("width",L.l-out.l).attr("height",lat(b)-lat(a)).attr("fill","#000");
    fr.append("rect").attr("x",L.r).attr("y",lat(a)).attr("width",out.r-L.r).attr("height",lat(b)-lat(a)).attr("fill","#000");
  }});
  const bx=g.append("g").attr("transform",`translate(0,${out.b})`).call(d3.axisBottom(lon).tickValues(mapLonTicks).tickSize(6).tickPadding(12).tickFormat((d,k)=>mapLonLabels[k]));
  const tx=g.append("g").attr("transform",`translate(0,${out.t})`).call(d3.axisTop(lon).tickValues(mapLonTicks).tickSize(6).tickFormat(""));
  const ly=g.append("g").attr("transform",`translate(${out.l},0)`).call(d3.axisLeft(lat).tickValues(mapLatTicks).tickSize(7).tickPadding(11).tickFormat((d,k)=>mapLatLabels[k]));
  const ry=g.append("g").attr("transform",`translate(${out.r},0)`).call(d3.axisRight(lat).tickValues(mapLatTicks).tickSize(7).tickFormat(""));
  [bx,tx,ly,ry].forEach(a=>{a.select(".domain").remove();a.selectAll("line").attr("stroke","#000").attr("stroke-width",2.2);
    a.selectAll("text").attr("font-size",59).attr("fill","#000").attr("font-family",'"Liberation Sans"');});
})();
</script></body></html>
